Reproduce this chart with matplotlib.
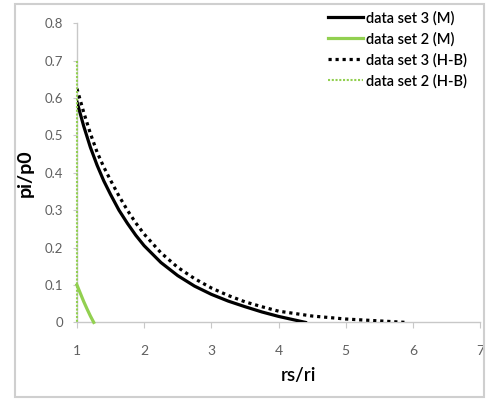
import numpy as np
import matplotlib
matplotlib.use("Agg")
from matplotlib import pyplot as plt
from matplotlib.patches import Rectangle

# data
x_m3 = [1.0, 1.1, 1.2, 1.3, 1.4, 1.5, 1.625, 1.75, 1.875, 2.0, 2.25, 2.5, 2.75, 3.0, 3.25, 3.5, 3.75, 4.0, 4.2, 4.4]
y_m3 = [0.59, 0.525, 0.468, 0.42, 0.378, 0.342, 0.30, 0.265, 0.233, 0.205, 0.16, 0.125, 0.097, 0.075, 0.057, 0.042, 0.028, 0.016, 0.008, 0.0]

x_m2 = [1.0, 1.05, 1.1, 1.15, 1.2, 1.25]
y_m2 = [0.1, 0.078, 0.056, 0.036, 0.017, 0.0]

x_hb3 = [1.0, 1.1, 1.2, 1.3, 1.4, 1.5, 1.625, 1.75, 1.875, 2.0, 2.25, 2.5, 2.75, 3.0, 3.25, 3.5, 3.75, 4.0, 4.5, 5.0, 5.5, 5.9]
y_hb3 = [0.625, 0.562, 0.505, 0.455, 0.415, 0.38, 0.338, 0.30, 0.266, 0.236, 0.186, 0.147, 0.117, 0.092, 0.072, 0.055, 0.042, 0.03, 0.017, 0.009, 0.004, 0.0]

x_hb2 = [1.0, 1.0, 1.0, 1.0]
y_hb2 = [0.7, 0.4, 0.1, 0.0]

xticks = [1, 2, 3, 4, 5, 6, 7]
yticks = [0, 0.1, 0.2, 0.3, 0.4, 0.5, 0.6, 0.7, 0.8]
ytick_labels = ['0', '0.1', '0.2', '0.3', '0.4', '0.5', '0.6', '0.7', '0.8']

plt.rcParams['font.family'] = ['Lato', 'DejaVu Sans']

green = '#92D050'
fig = plt.figure(figsize=(4.87, 3.99), dpi=100)
ax = fig.add_axes([0.158, 0.192, 0.828, 0.750])

ax.plot(x_m3, y_m3, color='black', lw=2.3, label='data set 3 (M)', zorder=4)
ax.plot(x_m2, y_m2, color=green, lw=2.3, label='data set 2 (M)', zorder=4, clip_on=False)
ax.plot(x_hb3, y_hb3, color='black', lw=2.3, ls=(0, (1, 1.2)), label='data set 3 (H-B)', zorder=4)
ax.plot(x_hb2, y_hb2, color=green, lw=1.5, ls=(0, (1, 0.8)), label='data set 2 (H-B)', zorder=5, clip_on=False)

ax.set_xlim(1, 7)
ax.set_ylim(0, 0.8)
ax.set_xticks(xticks)
ax.set_xticklabels([str(t) for t in xticks])
ax.set_yticks(yticks)
ax.set_yticklabels(ytick_labels)

for s in ['top', 'right']:
    ax.spines[s].set_visible(False)
for s in ['left', 'bottom']:
    ax.spines[s].set_color('#c8c8c8')
    ax.spines[s].set_linewidth(1.0)

ax.tick_params(axis='y', length=3, width=0.8, color='#c8c8c8', labelcolor='#606060', labelsize=9.5, pad=7)
ax.tick_params(axis='x', length=4, width=0.8, color='#c8c8c8', labelcolor='#606060', labelsize=10, pad=12)

ax.set_ylabel('pi/p0', fontsize=14, fontweight='bold', labelpad=8)
ax.set_xlabel('rs/ri', fontsize=13.5, fontweight='semibold', labelpad=4)
ax.xaxis.set_label_coords(0.55, -0.15)

leg = ax.legend(loc='upper right', bbox_to_anchor=(1.0, 1.085), frameon=False,
                fontsize=10.5, handlelength=2.4, handletextpad=0.2, labelspacing=0.45)
for t in leg.get_texts():
    t.set_fontweight('semibold')

fig.patches.append(Rectangle((0.031, 0.006), 0.963, 0.985, transform=fig.transFigure,
                             fill=False, edgecolor='#cfcfcf', lw=1.5))

fig.savefig('out.png', dpi=100)
